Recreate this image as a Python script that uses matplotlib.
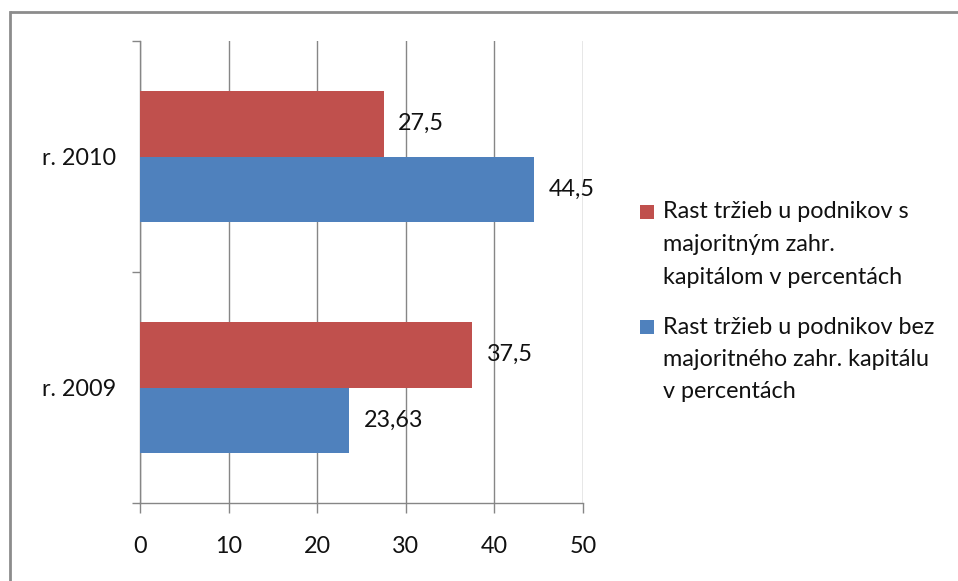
import matplotlib
matplotlib.use("Agg")
import matplotlib.pyplot as plt
from matplotlib.patches import Rectangle
from matplotlib.lines import Line2D

plt.rcParams['font.family'] = ['Lato', 'DejaVu Sans']

# Data
categories = ["r. 2009", "r. 2010"]
with_foreign = [37.5, 27.5]      # s majoritným zahr. kapitálom
without_foreign = [23.63, 44.5]  # bez majoritného zahr. kapitálu
value_labels_with = ["37,5", "27,5"]
value_labels_without = ["23,63", "44,5"]
series_names = [
    "Rast tržieb u podnikov s\nmajoritným zahr.\nkapitálom v percentách",
    "Rast tržieb u podnikov bez\nmajoritného zahr. kapitálu\nv percentách",
]
x_ticks = [0, 10, 20, 30, 40, 50]

RED = "#C0504D"
BLUE = "#4F81BD"
GRID = "#868686"
TEXT = "#111111"
FS = 16.8

W, H = 958, 581
fig = plt.figure(figsize=(W / 100, H / 100), dpi=100)

# outer chart frame: top and left edges
fx, fy = 10 / W, (H - 12) / H
fig.add_artist(Line2D([fx, 1.0], [fy, fy], transform=fig.transFigure,
                      color="#8c8c8c", linewidth=2, solid_capstyle="butt"))
fig.add_artist(Line2D([fx, fx], [0.0, fy], transform=fig.transFigure,
                      color="#8c8c8c", linewidth=2, solid_capstyle="projecting"))

ax = fig.add_axes([140 / W, (H - 503) / H, (583 - 140) / W, (503 - 41) / H])

pos = list(range(len(categories)))
bh = 0.285
ax.barh([p + bh / 2 for p in pos], with_foreign, height=bh, color=RED, zorder=3)
ax.barh([p - bh / 2 for p in pos], without_foreign, height=bh, color=BLUE, zorder=3)

for p, v, t in zip(pos, with_foreign, value_labels_with):
    ax.annotate(t, (v, p + bh / 2), xytext=(10.5, 0), textcoords="offset points",
                va="center", ha="left", fontsize=FS, color=TEXT, zorder=4)
for p, v, t in zip(pos, without_foreign, value_labels_without):
    ax.annotate(t, (v, p - bh / 2), xytext=(10.5, 0), textcoords="offset points",
                va="center", ha="left", fontsize=FS, color=TEXT, zorder=4)

ax.set_xlim(0, 50)
ax.set_ylim(-0.5, 1.5)
ax.set_xticks(x_ticks)
ax.set_xticklabels([str(t) for t in x_ticks], fontsize=FS, color=TEXT)
ax.xaxis.grid(True, color=GRID, linewidth=1, zorder=0)

# category labels centred, tick marks on category boundaries
ax.set_yticks([-0.5, 0.5, 1.5])
ax.set_yticklabels([])
ax.set_yticks(pos, minor=True)
ax.set_yticklabels(categories, minor=True, fontsize=FS, color=TEXT)
ax.tick_params(axis="y", which="minor", length=0, pad=17)
ax.tick_params(axis="y", which="major", length=6, color=GRID, width=1)
ax.tick_params(axis="x", length=7, color=GRID, width=1, pad=17)

for s in ("top", "right"):
    ax.spines[s].set_visible(False)
for s in ("left", "bottom"):
    ax.spines[s].set_color(GRID)
    ax.spines[s].set_linewidth(1)

# legend
line_gap = 32.5
entries = [(RED, 212), (BLUE, 327)]
for (col, y0), name in zip(entries, series_names):
    fig.patches.append(Rectangle((640 / W, (H - y0 - 7) / H), 14 / W, 14 / H,
                                 transform=fig.transFigure, facecolor=col,
                                 edgecolor="none"))
    for i, line in enumerate(name.split("\n")):
        fig.text(663 / W, (H - (y0 + i * line_gap)) / H, line, fontsize=FS,
                 color=TEXT, va="center", ha="left")

fig.savefig("out.png", dpi=100, facecolor="white")
